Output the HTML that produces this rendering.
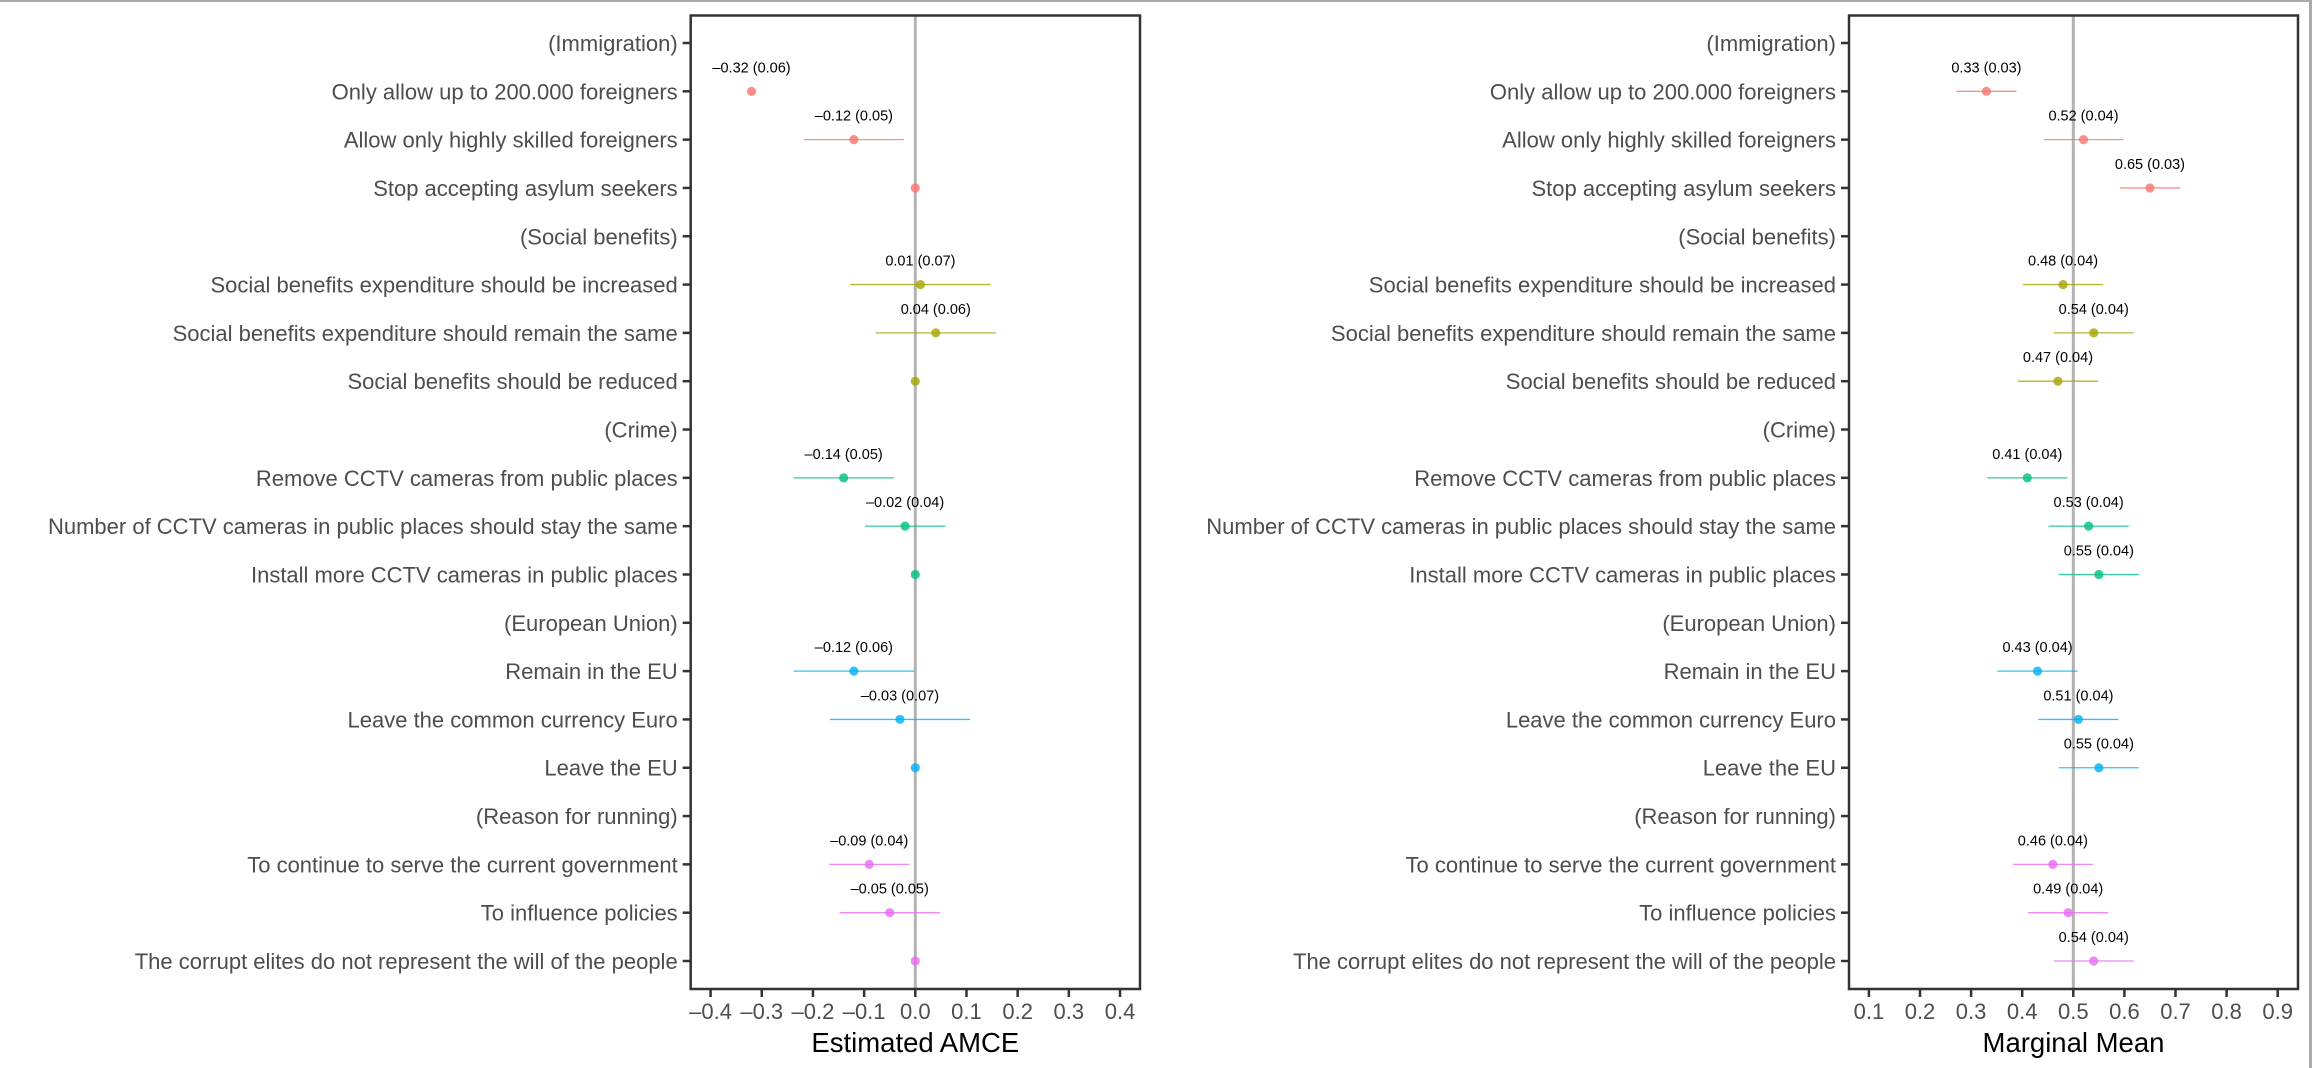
<!DOCTYPE html>
<html><head><meta charset="utf-8"><style>
html,body{margin:0;padding:0;background:#fff;}
svg{display:block;font-family:"Liberation Sans",Arial,sans-serif;}
</style></head><body>
<svg id="chart" width="2312" height="1068" viewBox="0 0 2312 1068" xmlns="http://www.w3.org/2000/svg">
<rect x="0" y="0" width="2312" height="2" fill="#ababab"/>
<rect x="2309" y="0" width="3" height="1068" fill="#ababab"/>
</svg>
<script>
const labels = ["(Immigration)","Only allow up to 200.000 foreigners","Allow only highly skilled foreigners","Stop accepting asylum seekers","(Social benefits)","Social benefits expenditure should be increased","Social benefits expenditure should remain the same","Social benefits should be reduced","(Crime)","Remove CCTV cameras from public places","Number of CCTV cameras in public places should stay the same","Install more CCTV cameras in public places","(European Union)","Remain in the EU","Leave the common currency Euro","Leave the EU","(Reason for running)","To continue to serve the current government","To influence policies","The corrupt elites do not represent the will of the people"];
const groups = [0,0,0,0,1,1,1,1,2,2,2,2,3,3,3,3,4,4,4,4];
const isHeader = [1,0,0,0,1,0,0,0,1,0,0,0,1,0,0,0,1,0,0,0];
const isBaseline = [0,0,0,1,0,0,0,1,0,0,0,1,0,0,0,1,0,0,0,1];
const amceEst = [null,-0.32,-0.12,0,null,0.01,0.04,0,null,-0.14,-0.02,0,null,-0.12,-0.03,0,null,-0.09,-0.05,0];
const amceSe = [null,0.06,0.05,0,null,0.07,0.06,0,null,0.05,0.04,0,null,0.06,0.07,0,null,0.04,0.05,0];
const mmEst = [null,0.33,0.52,0.65,null,0.48,0.54,0.47,null,0.41,0.53,0.55,null,0.43,0.51,0.55,null,0.46,0.49,0.54];
const mmSe = [null,0.03,0.04,0.03,null,0.04,0.04,0.04,null,0.04,0.04,0.04,null,0.04,0.04,0.04,null,0.04,0.04,0.04];
const amceTicks = [-0.4,-0.3,-0.2,-0.1,0.0,0.1,0.2,0.3,0.4];
const mmTicks = [0.1,0.2,0.3,0.4,0.5,0.6,0.7,0.8,0.9];
const colors = ["#F8766D","#A3A500","#00BF7D","#00B0F6","#E76BF3"];

const NS="http://www.w3.org/2000/svg";
const svg=document.getElementById('chart');
function mk(tag,attrs,parent){const e=document.createElementNS(NS,tag);for(const k in attrs)e.setAttribute(k,attrs[k]);(parent||svg).appendChild(e);return e;}
const plotTop=15.5,plotBottom=989;
const yRow=i=>43+i*(918/19);
function fmt(v){const s=Math.abs(v).toFixed(2);return (v<0?"\u2013":"")+s;}

function panel(cfg){
  const g=mk('g',{});
  
  
  const x=v=>cfg.x0+(v-cfg.v0)*cfg.scale;
  const rl=mk('line',{x1:x(cfg.ref),x2:x(cfg.ref),y1:plotTop,y2:plotBottom,stroke:"#b3b3b3","stroke-width":3},g);
  
  
  labels.forEach((t,i)=>{
    const y=yRow(i);
    const tk=mk('line',{x1:cfg.left-8,x2:cfg.left,y1:y,y2:y,stroke:"#333","stroke-width":2.5},g);
    
    
    const tx=mk('text',{x:cfg.left-13,y:y+8,"text-anchor":"end","font-size":22,fill:"#4d4d4d"},g);
    tx.textContent=t;
    
    
  });
  cfg.ticks.forEach(v=>{
    const xx=x(v);
    const tk=mk('line',{x1:xx,x2:xx,y1:plotBottom,y2:plotBottom+8,stroke:"#333","stroke-width":2.5},g);
    
    
    const tx=mk('text',{x:xx,y:plotBottom+30,"text-anchor":"middle","font-size":22,fill:"#4d4d4d"},g);
    tx.textContent=(v<0?"\u2013":"")+Math.abs(v).toFixed(1);
    
    
  });
  cfg.est.forEach((v,i)=>{
    if(v===null||isHeader[i])return;
    const y=yRow(i), c=colors[groups[i]], se=cfg.se[i];
    const base=cfg.baseline&&isBaseline[i];
    if(!base){
      const lo=v-1.96*se, hi=v+1.96*se;
      if(lo>=cfg.lim[0]&&hi<=cfg.lim[1]){
        const ln=mk('line',{x1:x(lo),x2:x(hi),y1:y,y2:y,stroke:c,"stroke-width":1.3,"stroke-opacity":0.8},g);
        
        
      }
      const lb=mk('text',{x:x(v),y:y-19,"text-anchor":"middle","font-size":14.5,fill:"#000"},g);
      lb.textContent=fmt(v)+" ("+se.toFixed(2)+")";
      
      
    }
    const pt=mk('circle',{cx:x(v),cy:y,r:4.6,fill:c,"fill-opacity":0.8},g);
    
    
  });
  const fr=mk('rect',{x:cfg.left,y:plotTop,width:cfg.right-cfg.left,height:plotBottom-plotTop,fill:"none",stroke:"#333","stroke-width":2.5},g);
  
  
  const tt=mk('text',{x:(cfg.left+cfg.right)/2,y:1052,"text-anchor":"middle","font-size":27.5,fill:"#000"},g);
  tt.textContent=cfg.title;
  
  
}
panel({name:'amce-panel',left:690.7,right:1140,x0:915.3,v0:0,scale:511.8,ref:0,ticks:amceTicks,est:amceEst,se:amceSe,lim:[-0.4,0.4],baseline:true,title:"Estimated AMCE"});
panel({name:'marginal-mean-panel',left:1849,right:2298,x0:2073.3,v0:0.5,scale:511,ref:0.5,ticks:mmTicks,est:mmEst,se:mmSe,lim:[0,1],baseline:false,title:"Marginal Mean"});
</script>
</body></html>
